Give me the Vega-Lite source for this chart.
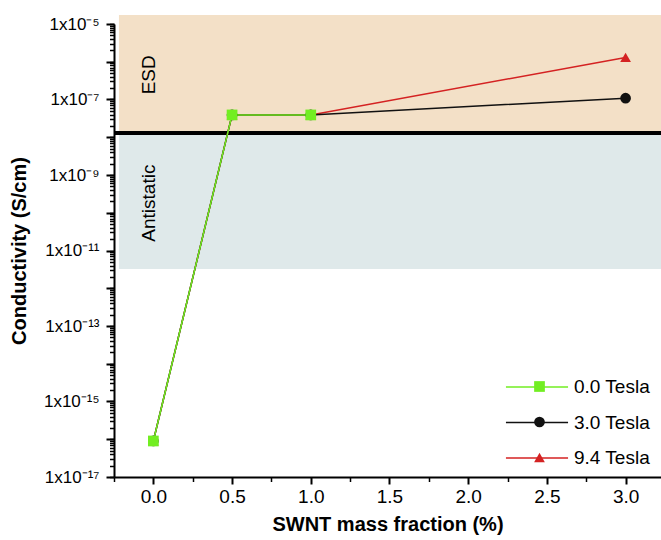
{
  "$schema": "https://vega.github.io/schema/vega-lite/v6.json",
  "width": 547,
  "height": 453,
  "autosize": "none",
  "padding": {"left": 114, "top": 24, "right": 0, "bottom": 63},
  "background": "white",
  "config": {"view": {"stroke": null}, "font": "Liberation Sans", "axis": {"ticks": true}},
  "datasets": {
    "series": [
      {"s": "9.4 Tesla", "x": 0, "y": 9e-17},
      {"s": "9.4 Tesla", "x": 0.5, "y": 3.9e-8},
      {"s": "9.4 Tesla", "x": 1.0, "y": 3.9e-8},
      {"s": "9.4 Tesla", "x": 3.0, "y": 1.3e-6},
      {"s": "3.0 Tesla", "x": 0, "y": 9e-17},
      {"s": "3.0 Tesla", "x": 0.5, "y": 3.9e-8},
      {"s": "3.0 Tesla", "x": 1.0, "y": 3.9e-8},
      {"s": "3.0 Tesla", "x": 3.0, "y": 1.08e-7},
      {"s": "0.0 Tesla", "x": 0, "y": 9e-17},
      {"s": "0.0 Tesla", "x": 0.5, "y": 3.9e-8},
      {"s": "0.0 Tesla", "x": 1.0, "y": 3.9e-8}
    ],
    "zones": [
      {"zone": "ESD", "x0": -0.2186, "x1": 3.3, "y0": 1.3e-8, "y1": 1.73e-5},
      {"zone": "Antistatic", "x0": -0.2186, "x1": 3.3, "y0": 3.24e-12, "y1": 1.3e-8}
    ],
    "labels": [
      {"label": "ESD", "x": -0.03, "y": 4.5e-7},
      {"label": "Antistatic", "x": -0.03, "y": 1.8e-10}
    ],
    "threshold": [{"y": 1.3e-8}]
  },
  "resolve": {
    "axis": {"x": "independent", "y": "independent"},
    "legend": {"color": "independent", "shape": "independent"}
  },
  "layer": [
    {
      "data": {"name": "zones"},
      "mark": {"type": "rect", "clip": false},
      "encoding": {
        "x": {
          "field": "x0", "type": "quantitative",
          "scale": {"domain": [-0.25, 3.225], "nice": false, "zero": false},
          "axis": {
            "orient": "bottom",
            "title": "SWNT mass fraction (%)",
            "values": [0, 0.5, 1, 1.5, 2, 2.5, 3],
            "format": ".1f",
            "ticks": true,
            "tickSize": 7,
            "tickWidth": 2, "tickColor": "#000000",
            "domainWidth": 2, "domainColor": "black",
            "labelFontSize": 19, "labelColor": "black", "labelPadding": 3,
            "labelOverlap": false, "labelFlush": false,
            "grid": false,
            "titleFontSize": 20, "titleFontWeight": "bold", "titleColor": "black", "titlePadding": 8
          }
        },
        "x2": {"field": "x1"},
        "y": {
          "field": "y0", "type": "quantitative",
          "scale": {"type": "log", "domain": [1e-17, 1e-5], "nice": false},
          "axis": {
            "orient": "left",
            "title": "Conductivity (S/cm)",
            "values": [1e-17, 1e-16, 1e-15, 1e-14, 1e-13, 1e-12, 1e-11, 1e-10, 1e-9, 1e-8, 1e-7, 1e-6, 1e-5],
            "labelExpr": "round(log(datum.value)/LN10) % 2 != 0 ? '1x10' + (round(log(datum.value)/LN10) == -5 ? '⁻⁵' : round(log(datum.value)/LN10) == -7 ? '⁻⁷' : round(log(datum.value)/LN10) == -9 ? '⁻⁹' : round(log(datum.value)/LN10) == -11 ? '⁻¹¹' : round(log(datum.value)/LN10) == -13 ? '⁻¹³' : round(log(datum.value)/LN10) == -15 ? '⁻¹⁵' : '⁻¹⁷') : ''",
            "ticks": true,
            "tickSize": 8,
            "tickWidth": 2, "tickColor": "#000000",
            "domainWidth": 2, "domainColor": "black",
            "labelFontSize": 17, "labelColor": "black", "labelPadding": 7,
            "labelOverlap": false, "labelFlush": false,
            "grid": false,
            "titleFontSize": 20, "titleFontWeight": "bold", "titleColor": "black", "titlePadding": 14
          }
        },
        "y2": {"field": "y1"},
        "fill": {"field": "zone", "type": "nominal", "scale": {"domain": ["ESD", "Antistatic"], "range": ["#f3e0c7", "#dfe9ea"]}, "legend": null}
      }
    },
    {
      "data": {"name": "threshold"},
      "mark": {"type": "rule", "strokeWidth": 4, "color": "black"},
      "encoding": {
        "y": {
          "field": "y", "type": "quantitative",
          "axis": {
            "orient": "left", "title": null, "tickCount": 20, "labels": false, "domain": false, "grid": false,
            "ticks": true, "tickSize": 4.5, "tickWidth": 1.5, "tickColor": "#000000"
          }
        }
      }
    },
    {
      "data": {"name": "labels"},
      "mark": {"type": "text", "angle": 270, "fontSize": 19, "color": "black", "align": "center", "baseline": "middle"},
      "encoding": {
        "x": {
          "field": "x", "type": "quantitative",
          "axis": {
            "orient": "bottom", "title": null, "values": [-0.25, 0.25, 0.75, 1.25, 1.75, 2.25, 2.75],
            "labels": false, "domain": false, "grid": false,
            "ticks": true, "tickSize": 4.5, "tickWidth": 1.5, "tickColor": "#000000"
          }
        },
        "y": {"field": "y", "type": "quantitative", "axis": null},
        "text": {"field": "label"}
      }
    },
    {
      "data": {"name": "series"},
      "mark": {"type": "line", "strokeWidth": 1.5, "clip": false},
      "encoding": {
        "x": {"field": "x", "type": "quantitative", "axis": null},
        "y": {"field": "y", "type": "quantitative", "axis": null},
        "color": {
          "field": "s", "type": "nominal",
          "scale": {"domain": ["0.0 Tesla", "3.0 Tesla", "9.4 Tesla"], "range": ["#72ee22", "#111111", "#d42222"]},
          "legend": {
            "title": null, "orient": "none", "legendX": 413, "legendY": 353,
            "symbolType": "M-3.45,0H3.45", "symbolSize": 324, "symbolStrokeWidth": 1.5,
            "labelFontSize": 19, "labelColor": "black", "labelOffset": 27, "rowPadding": 15.5,
            "zindex": 0
          }
        }
      }
    },
    {
      "data": {"name": "series"},
      "mark": {"type": "point", "filled": true, "size": 115, "opacity": 1},
      "encoding": {
        "x": {"field": "x", "type": "quantitative", "axis": null},
        "y": {"field": "y", "type": "quantitative", "axis": null},
        "color": {
          "field": "s", "type": "nominal",
          "legend": {
            "title": null, "orient": "none", "legendX": 416, "legendY": 353,
            "symbolSize": 115, "symbolStrokeWidth": 0,
            "labelFontSize": 19, "labelExpr": "''", "labelOffset": 27, "rowPadding": 15.5,
            "zindex": 1
          }
        },
        "shape": {
          "field": "s", "type": "nominal",
          "scale": {"domain": ["0.0 Tesla", "3.0 Tesla", "9.4 Tesla"], "range": ["square", "circle", "triangle-up"]},
          "legend": {
            "title": null, "orient": "none", "legendX": 416, "legendY": 353,
            "symbolSize": 115, "symbolStrokeWidth": 0,
            "labelFontSize": 19, "labelExpr": "''", "labelOffset": 27, "rowPadding": 15.5,
            "zindex": 1
          }
        }
      }
    }
  ]
}
